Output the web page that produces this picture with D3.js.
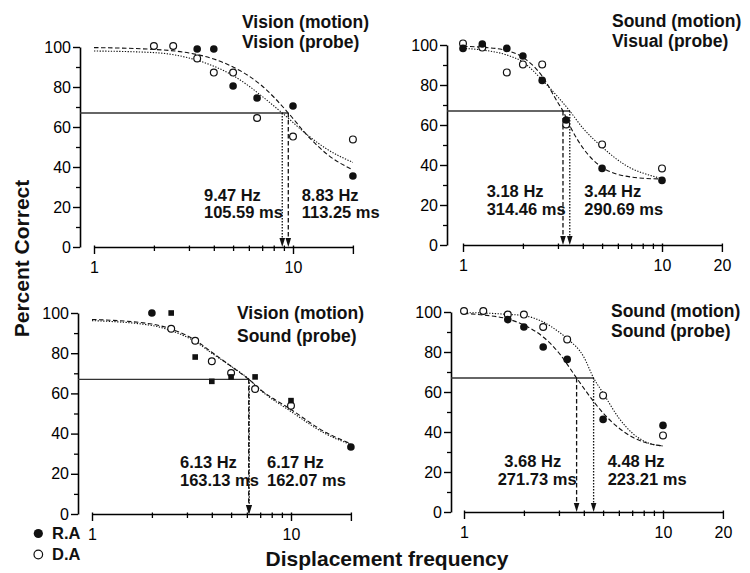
<!DOCTYPE html>
<html>
<head>
<meta charset="utf-8">
<script src="https://cdn.jsdelivr.net/npm/d3@7"></script>
<style>
  html, body { margin: 0; padding: 0; background: #fff; }
  svg { display: block; font-family: "Liberation Sans", Arial, Helvetica, sans-serif; }
</style>
</head>
<body>
<svg id="chart" width="750" height="573"></svg>
<script>
// ---- shared settings -------------------------------------------------------
const criterion = 67;                       // percent-correct threshold level
const yMajorTicks = [0, 20, 40, 60, 80, 100];
const yMinorTicks = [10, 30, 50, 70, 90];
const xMajorTicks = [1, 10, 20];
const xMinorTicks = [2, 3, 4, 5, 6, 7, 8, 9];
const legendLabels = ["R.A", "D.A"];

// ---- panel 1: Vision (motion) / Vision (probe) ------------------------------
const p1Title = ["Vision (motion)", "Vision (probe)"];
const p1XLabels = ["1", "10", ""];
const p1RaFreq = [3.3, 4, 5, 6.6, 10, 20];
const p1RaPct  = [99, 99, 80.5, 74.5, 70.5, 35.5];
const p1DaFreq = [2, 2.5, 3.3, 4, 5, 6.6, 10, 20];
const p1DaPct  = [100.5, 100.5, 94.3, 87.2, 87.2, 64.5, 55.2, 53.8];
const p1RaFitFreq = [1, 2, 3, 4, 5, 6, 7, 8, 9.47, 12, 15, 20];
const p1RaFitPct  = [99.7, 98.8, 97, 94, 90, 85.5, 80.5, 75, 67, 55, 46, 38.5];
const p1DaFitFreq = [1, 2, 3, 4, 5, 6, 7, 8.83, 12, 15, 20];
const p1DaFitPct  = [98, 97.2, 94.5, 90.4, 85.7, 80.5, 75.3, 67, 55.5, 48.6, 42.3];
const p1Hz = [9.47, 8.83];                  // R.A, D.A
const p1Ms = ["105.59", "113.25"];

// ---- panel 2: Sound (motion) / Visual (probe) -------------------------------
const p2Title = ["Sound (motion)", "Visual (probe)"];
const p2XLabels = ["1", "10", "20"];
const p2RaFreq = [1, 1.25, 1.66, 2, 2.5, 3.3, 5, 10];
const p2RaPct  = [98.3, 100.5, 98.3, 94.5, 82.3, 62.5, 38.3, 32.3];
const p2DaFreq = [1, 1.25, 1.66, 2, 2.5, 3.3, 5, 10];
const p2DaPct  = [100.8, 98.7, 86.3, 90.3, 90.3, 60.3, 50.3, 38.3];
const p2RaFitFreq = [1, 1.25, 1.66, 2, 2.5, 3, 3.18, 3.5, 4, 5, 6, 7, 8, 10];
const p2RaFitPct  = [99.3, 98.9, 97.2, 93.8, 84.4, 71.1, 67, 58.2, 48.6, 38.8, 35.3, 34, 33.4, 33];
const p2DaFitFreq = [1, 1.25, 1.66, 2, 2.5, 3, 3.44, 4, 5, 6, 7, 8, 10];
const p2DaFitPct  = [98.3, 97.5, 95, 91.5, 82.5, 74, 67, 58.5, 49, 42.5, 38.3, 36, 33.2];
const p2Hz = [3.18, 3.44];
const p2Ms = ["314.46", "290.69"];

// ---- panel 3: Vision (motion) / Sound (probe) -------------------------------
const p3Title = ["Vision (motion)", "Sound (probe)"];
const p3XLabels = ["1", "10", ""];
const p3RaFreq = [2, 20];
const p3RaPct  = [100, 33.3];
const p3RaSquareFreq = [2.5, 3.3, 4, 5, 6.6, 10];
const p3RaSquarePct  = [100, 78.1, 66, 68.2, 68.2, 56.4];
const p3DaFreq = [2.5, 3.3, 4, 5, 6.6, 10];
const p3DaPct  = [92.2, 86.2, 76, 70.1, 62.2, 53.9];
const p3RaFitFreq = [1, 2, 2.5, 3.3, 4, 5, 6.13, 7, 10, 15, 20];
const p3RaFitPct  = [96.8, 94.5, 92, 86.5, 80.5, 73.5, 67, 62, 52, 40.5, 35];
const p3DaFitFreq = [1, 2, 2.5, 3.3, 4, 5, 6.17, 7, 10, 15, 20];
const p3DaFitPct  = [96.2, 93.8, 91.2, 85.8, 80, 73.5, 67, 61.8, 51, 39.8, 34.5];
const p3Hz = [6.13, 6.17];
const p3Ms = ["163.13", "162.07"];

// ---- panel 4: Sound (motion) / Sound (probe) --------------------------------
const p4Title = ["Sound (motion)", "Sound (probe)"];
const p4XLabels = ["1", "10", "20"];
const p4RaFreq = [1.66, 2, 2.5, 3.3, 5, 10];
const p4RaPct  = [96.2, 92.5, 82.5, 76.3, 46.3, 43.3];
const p4DaFreq = [1, 1.25, 1.66, 2, 2.5, 3.3, 5, 10];
const p4DaPct  = [100.5, 100.5, 98.7, 98.7, 92.5, 86.3, 58.3, 38.3];
const p4RaFitFreq = [1, 1.25, 1.66, 2, 2.5, 3, 3.68, 4.5, 5, 6, 7, 8, 10];
const p4RaFitPct  = [99.3, 98.5, 96.5, 93.5, 87.5, 79.5, 67, 55, 49.5, 42, 37.5, 35, 33];
const p4DaFitFreq = [1, 1.25, 1.66, 2, 2.5, 3, 3.3, 4, 4.48, 5, 6, 7, 8, 10];
const p4DaFitPct  = [99.7, 99.5, 98.8, 98.2, 95, 90, 86.7, 77.5, 67, 59.5, 47, 39.5, 35.5, 33];
const p4Hz = [3.68, 4.48];
const p4Ms = ["271.73", "223.21"];

// ---- assemble panels with their placement on the page -----------------------
const zip = (xs, ys) => xs.map((x, i) => ({ x, y: ys[i] }));

const panels = [
  { title: p1Title, xLabels: p1XLabels,
    ra: zip(p1RaFreq, p1RaPct), raSq: [], da: zip(p1DaFreq, p1DaPct),
    raFit: zip(p1RaFitFreq, p1RaFitPct), daFit: zip(p1DaFitFreq, p1DaFitPct),
    hz: p1Hz, ms: p1Ms,
    box: { ax: 80, y100: 47, y0: 247, x1: 94 },
    titlePos: { x: 242, y: [28.3, 48.3] },
    notePos: { left: [204, 204], right: [301.7, 301.7], y: 200.7 } },
  { title: p2Title, xLabels: p2XLabels,
    ra: zip(p2RaFreq, p2RaPct), raSq: [], da: zip(p2DaFreq, p2DaPct),
    raFit: zip(p2RaFitFreq, p2RaFitPct), daFit: zip(p2DaFitFreq, p2DaFitPct),
    hz: p2Hz, ms: p2Ms,
    box: { ax: 447, y100: 45, y0: 245, x1: 463 },
    titlePos: { x: 612, y: [27.3, 47.3] },
    notePos: { left: [486.7, 486.7], right: [584.3, 584.3], y: 197.3 } },
  { title: p3Title, xLabels: p3XLabels,
    ra: zip(p3RaFreq, p3RaPct), raSq: zip(p3RaSquareFreq, p3RaSquarePct), da: zip(p3DaFreq, p3DaPct),
    raFit: zip(p3RaFitFreq, p3RaFitPct), daFit: zip(p3DaFitFreq, p3DaFitPct),
    hz: p3Hz, ms: p3Ms,
    box: { ax: 78, y100: 313, y0: 514, x1: 92 },
    titlePos: { x: 237, y: [319.3, 341.5] },
    notePos: { left: [180, 180], right: [267, 267], y: 468.3 } },
  { title: p4Title, xLabels: p4XLabels,
    ra: zip(p4RaFreq, p4RaPct), raSq: [], da: zip(p4DaFreq, p4DaPct),
    raFit: zip(p4RaFitFreq, p4RaFitPct), daFit: zip(p4DaFitFreq, p4DaFitPct),
    hz: p4Hz, ms: p4Ms,
    box: { ax: 451, y100: 312, y0: 512, x1: 464 },
    titlePos: { x: 611, y: [317.3, 337.3] },
    notePos: { left: [504.3, 497.7], right: [607.7, 607.7], y: 467.3 } }
];

const DECADE = 199;          // pixel length of one decade on the log axis
const DASHED = "4.5,2.5";    // R.A fit
const DOTTED = "1.3,1.5";    // D.A fit

const svg = d3.select("#chart");

panels.forEach(p => {
  const b = p.box;
  const x = d3.scaleLog().domain([1, 20]).range([b.x1, b.x1 + DECADE * Math.log10(20)]);
  const y = d3.scaleLinear().domain([0, 100]).range([b.y0, b.y100]);
  const g = svg.append("g");

  // y axis: major + minor ticks
  const yAxis = g.append("g").attr("transform", `translate(${b.ax},0)`)
    .call(d3.axisLeft(y).tickValues(yMajorTicks).tickSize(7).tickSizeOuter(0).tickPadding(2));
  yAxis.select(".domain").attr("stroke-width", 1.6);
  yAxis.selectAll(".tick line").attr("stroke-width", 1.4);
  yAxis.selectAll(".tick text").attr("font-size", 16).attr("font-family", "Liberation Sans, Arial, sans-serif");
  const yMinor = g.append("g").attr("transform", `translate(${b.ax},0)`)
    .call(d3.axisLeft(y).tickValues(yMinorTicks).tickSize(4).tickFormat(""));
  yMinor.select(".domain").remove();
  yMinor.selectAll(".tick line").attr("stroke-width", 1.3);

  // x axis (log): major + minor ticks
  const xAxis = g.append("g").attr("transform", `translate(0,${b.y0})`)
    .call(d3.axisBottom(x).tickValues(xMajorTicks).tickSize(7).tickSizeOuter(0).tickPadding(7.6)
      .tickFormat((d, i) => p.xLabels[i]));
  xAxis.select(".domain").attr("stroke-width", 1.6);
  xAxis.selectAll(".tick line").attr("y1", -1.5).attr("stroke-width", 1.4);
  xAxis.selectAll(".tick text").attr("font-size", 16).attr("font-family", "Liberation Sans, Arial, sans-serif");
  const xMinor = g.append("g").attr("transform", `translate(0,${b.y0})`)
    .call(d3.axisBottom(x).tickValues(xMinorTicks).tickSize(4).tickFormat(""));
  xMinor.select(".domain").remove();
  xMinor.selectAll(".tick line").attr("y1", -1.5).attr("stroke-width", 1.3);

  // threshold criterion line
  const xMax = d3.max(p.hz);
  g.append("line")
    .attr("x1", b.ax).attr("x2", x(xMax))
    .attr("y1", y(criterion)).attr("y2", y(criterion))
    .attr("stroke", "#333").attr("stroke-width", 1.4);

  // fitted curves
  const line = d3.line().x(d => x(d.x)).y(d => y(d.y)).curve(d3.curveMonotoneX);
  g.append("path").datum(p.daFit).attr("d", line)
    .attr("fill", "none").attr("stroke", "#111").attr("stroke-width", 1.1)
    .attr("stroke-dasharray", DOTTED);
  g.append("path").datum(p.raFit).attr("d", line)
    .attr("fill", "none").attr("stroke", "#111").attr("stroke-width", 1.1)
    .attr("stroke-dasharray", DASHED);

  // threshold arrows (R.A dashed, D.A dotted)
  const dashes = [DASHED, "1.5,1.5"];
  p.hz.forEach((hz, i) => {
    const xi = x(hz);
    g.append("line")
      .attr("x1", xi).attr("x2", xi)
      .attr("y1", y(criterion)).attr("y2", b.y0 - 8)
      .attr("stroke", "#111").attr("stroke-width", 1.3)
      .attr("stroke-dasharray", dashes[i]);
    g.append("path")
      .attr("d", `M${xi},${b.y0} L${xi - 2.8},${b.y0 - 9} L${xi + 2.8},${b.y0 - 9} Z`)
      .attr("fill", "#111");
  });

  // data markers
  g.selectAll(".da").data(p.da).join("circle")
    .attr("cx", d => x(d.x)).attr("cy", d => y(d.y)).attr("r", 3.4)
    .attr("fill", "#fff").attr("stroke", "#111").attr("stroke-width", 1.2);
  g.selectAll(".ra").data(p.ra).join("circle")
    .attr("cx", d => x(d.x)).attr("cy", d => y(d.y)).attr("r", 3.8)
    .attr("fill", "#111");
  g.selectAll(".rasq").data(p.raSq).join("rect")
    .attr("x", d => x(d.x) - 2.8).attr("y", d => y(d.y) - 2.8)
    .attr("width", 5.6).attr("height", 5.6)
    .attr("fill", "#111");

  // panel title
  const t = g.append("text").attr("font-weight", "bold").attr("font-size", 17.5).attr("fill", "#111");
  p.title.forEach((s, i) => {
    t.append("tspan").attr("x", p.titlePos.x).attr("y", p.titlePos.y[i]).text(s);
  });

  // threshold annotations
  const n = p.notePos;
  [[n.left, 0], [n.right, 1]].forEach(([xs, i]) => {
    const a = g.append("text").attr("font-weight", "bold").attr("font-size", 16.5).attr("fill", "#111");
    a.append("tspan").attr("x", xs[0]).attr("y", n.y).text(`${p.hz[i]} Hz`);
    a.append("tspan").attr("x", xs[1]).attr("y", n.y + 17.6).text(`${p.ms[i]} ms`);
  });
});

// axis titles
svg.append("text")
  .attr("transform", "translate(29,258.5) rotate(-90)")
  .attr("text-anchor", "middle").attr("font-weight", "bold").attr("font-size", 21)
  .attr("fill", "#111").text("Percent Correct");
svg.append("text")
  .attr("x", 387).attr("y", 566)
  .attr("text-anchor", "middle").attr("font-weight", "bold").attr("font-size", 21)
  .attr("fill", "#111").text("Displacement frequency");

// legend
const legend = svg.append("g");
legend.append("circle").attr("cx", 38.3).attr("cy", 533.5).attr("r", 4.6).attr("fill", "#111");
legend.append("circle").attr("cx", 38.3).attr("cy", 554.5).attr("r", 4.3)
  .attr("fill", "#fff").attr("stroke", "#111").attr("stroke-width", 1.2);
legend.selectAll(".lab").data(legendLabels).join("text")
  .attr("x", 52).attr("y", (d, i) => 539 + i * 21)
  .attr("font-weight", "bold").attr("font-size", 16.5).attr("fill", "#111")
  .text(d => d);
</script>
</body>
</html>
